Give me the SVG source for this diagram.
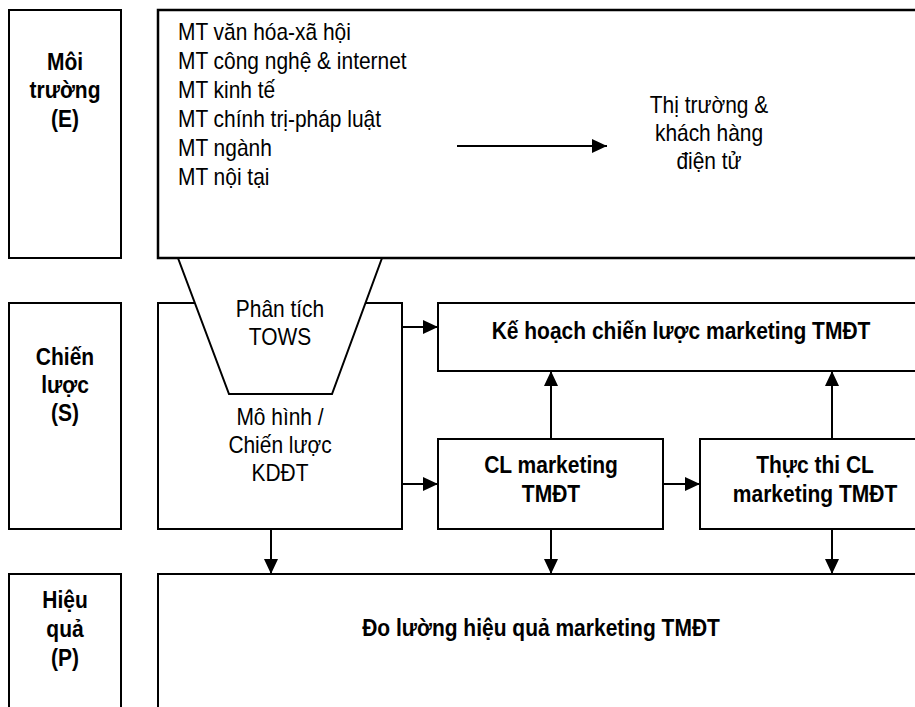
<svg xmlns="http://www.w3.org/2000/svg" width="915" height="707" viewBox="0 0 915 707">
<style>
text{font-family:"Liberation Sans",Arial,sans-serif;font-size:23px;fill:#000}
.b{font-weight:bold;font-size:24px}
.c{text-anchor:middle}
.box{fill:#fff;stroke:#000;stroke-width:2}
.thick{stroke-width:2.5}
.ln{stroke:#000;stroke-width:2;fill:none}
</style>
<defs>
<marker id="ah" markerUnits="userSpaceOnUse" markerWidth="16" markerHeight="16" viewBox="0 0 16 16" refX="15" refY="7" orient="auto">
<path d="M0,0 L15,7 L0,14 Z" fill="#000"/>
</marker>
</defs>
<rect width="915" height="707" fill="#fff"/>

<g id="lbl-E">
<rect class="box" x="9" y="10" width="112" height="248"/>
<text class="b c" transform="translate(65,70) scale(0.875,1)">Môi</text>
<text class="b c" transform="translate(65,98) scale(0.875,1)">trường</text>
<text class="b c" transform="translate(65,127) scale(0.875,1)">(E)</text>
</g>

<g id="env">
<rect class="box thick" x="158" y="10" width="770" height="248"/>
<text transform="translate(178,40) scale(0.91,1)">MT văn hóa-xã hội</text>
<text transform="translate(178,69) scale(0.91,1)">MT công nghệ &amp; internet</text>
<text transform="translate(178,98) scale(0.91,1)">MT kinh tế</text>
<text transform="translate(178,127) scale(0.91,1)">MT chính trị-pháp luật</text>
<text transform="translate(178,156) scale(0.91,1)">MT ngành</text>
<text transform="translate(178,185) scale(0.91,1)">MT nội tại</text>
<text class="c" transform="translate(709,113) scale(0.91,1)">Thị trường &amp;</text>
<text class="c" transform="translate(709,141) scale(0.91,1)">khách hàng</text>
<text class="c" transform="translate(709,169) scale(0.91,1)">điện tử</text>
</g>

<g id="lbl-S">
<rect class="box" x="9" y="303" width="112" height="226"/>
<text class="b c" transform="translate(65,365) scale(0.875,1)">Chiến</text>
<text class="b c" transform="translate(65,393) scale(0.875,1)">lược</text>
<text class="b c" transform="translate(65,421) scale(0.875,1)">(S)</text>
</g>

<g id="kddt">
<rect class="box" x="158" y="303" width="244" height="226"/>
<text class="c" transform="translate(280,425) scale(0.91,1)">Mô hình /</text>
<text class="c" transform="translate(280,453) scale(0.91,1)">Chiến lược</text>
<text class="c" transform="translate(280,481) scale(0.91,1)">KDĐT</text>
</g>

<g id="tows">
<polygon class="box" points="178,258 382,258 332,394 229,394"/>
<text class="c" transform="translate(280,317) scale(0.91,1)">Phân tích</text>
<text class="c" transform="translate(280,345) scale(0.91,1)">TOWS</text>
</g>

<g id="plan">
<rect class="box" x="438" y="303" width="486" height="68"/>
<text class="b c" transform="translate(681,339) scale(0.875,1)">Kế hoạch chiến lược marketing TMĐT</text>
</g>

<g id="cl">
<rect class="box" x="438" y="439" width="225" height="90"/>
<text class="b c" transform="translate(551,473) scale(0.875,1)">CL marketing</text>
<text class="b c" transform="translate(551,502) scale(0.875,1)">TMĐT</text>
</g>

<g id="exec">
<rect class="box" x="700" y="439" width="230" height="90"/>
<text class="b c" transform="translate(815,473) scale(0.875,1)">Thực thi CL</text>
<text class="b c" transform="translate(815,502) scale(0.875,1)">marketing TMĐT</text>
</g>

<g id="lbl-P">
<rect class="box" x="9" y="574" width="112" height="160"/>
<text class="b c" transform="translate(65,608) scale(0.875,1)">Hiệu</text>
<text class="b c" transform="translate(65,637) scale(0.875,1)">quả</text>
<text class="b c" transform="translate(65,666) scale(0.875,1)">(P)</text>
</g>

<g id="measure">
<rect class="box" x="158" y="574" width="766" height="160"/>
<text class="b c" transform="translate(541,636) scale(0.875,1)">Đo lường hiệu quả marketing TMĐT</text>
</g>

<g id="connectors">
<line class="ln" x1="457" y1="146" x2="607" y2="146" marker-end="url(#ah)"/>
<line class="ln" x1="402" y1="327" x2="438" y2="327" marker-end="url(#ah)"/>
<line class="ln" x1="402" y1="484" x2="438" y2="484" marker-end="url(#ah)"/>
<line class="ln" x1="663" y1="484" x2="700" y2="484" marker-end="url(#ah)"/>
<line class="ln" x1="551" y1="439" x2="551" y2="371" marker-end="url(#ah)"/>
<line class="ln" x1="832" y1="439" x2="832" y2="371" marker-end="url(#ah)"/>
<line class="ln" x1="271" y1="529" x2="271" y2="574" marker-end="url(#ah)"/>
<line class="ln" x1="551" y1="529" x2="551" y2="574" marker-end="url(#ah)"/>
<line class="ln" x1="832" y1="529" x2="832" y2="574" marker-end="url(#ah)"/>
</g>
</svg>
